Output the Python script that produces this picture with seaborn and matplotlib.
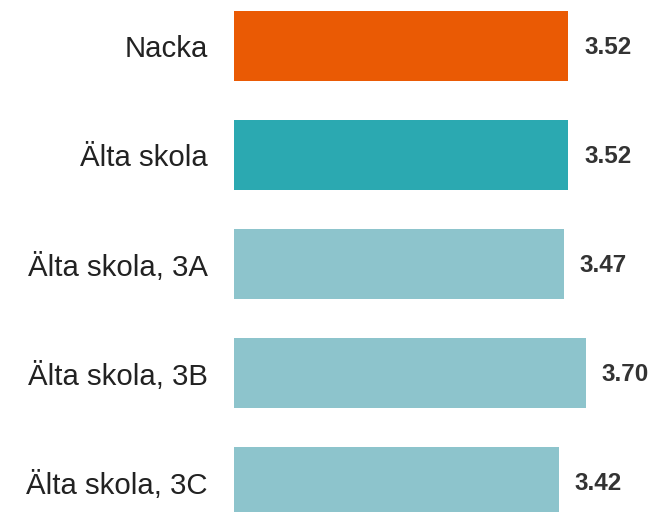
import pandas as pd
import matplotlib.pyplot as plt
import seaborn as sns

# Data
categories = ['Nacka', 'Älta skola', 'Älta skola, 3A', 'Älta skola, 3B', 'Älta skola, 3C']
values = [3.52, 3.52, 3.47, 3.70, 3.42]
bar_colors = ['#EA5A04', '#2BA9B1', '#8DC4CC', '#8DC4CC', '#8DC4CC']

df = pd.DataFrame({'category': categories, 'value': values})

sns.set_style('white')
plt.rcParams['font.family'] = ['Liberation Sans', 'DejaVu Sans']

fig = plt.figure(figsize=(6.71, 5.12), dpi=100)
ax = fig.add_axes([234 / 671, 0, 4.5 * 95 / 671, 1])

sns.barplot(data=df, x='value', y='category', hue='category',
            palette=bar_colors, saturation=1, orient='h', width=0.642,
            legend=False, linewidth=0, ax=ax)

ax.set_xlim(0, 4.5)
ax.set_ylim(4.275, -0.422)

for i, v in enumerate(values):
    ax.annotate(f'{v:.2f}', xy=(v, i), xytext=(11.5, -1), textcoords='offset points',
                ha='left', va='center', fontsize=17.5, fontweight='bold', color='#333333')

ax.set_xlabel('')
ax.set_ylabel('')
ax.set_xticks([])
ax.tick_params(axis='y', length=0, pad=19, labelsize=21.2, labelcolor='#222222')
sns.despine(ax=ax, left=True, bottom=True)

fig.savefig('out.png', dpi=100)
